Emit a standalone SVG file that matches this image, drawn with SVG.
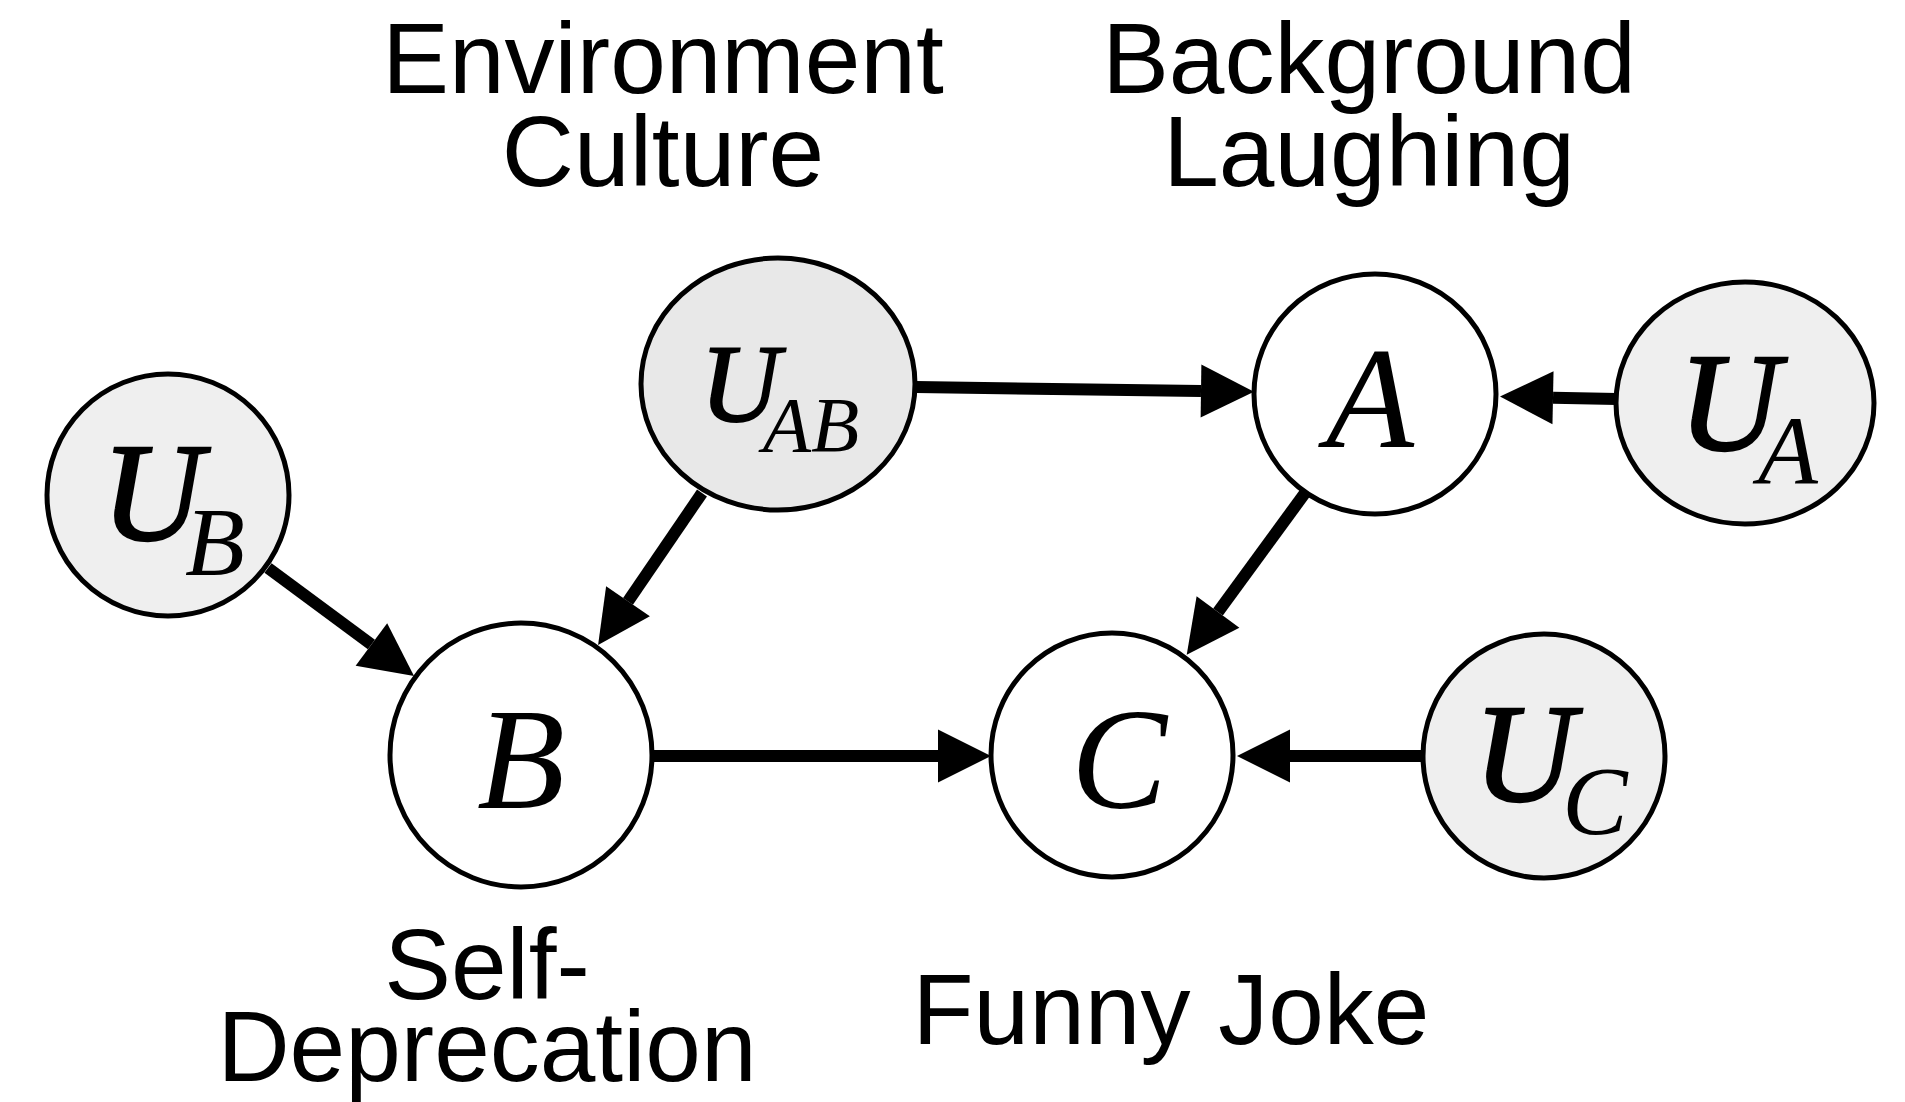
<svg xmlns="http://www.w3.org/2000/svg" width="1905" height="1102" viewBox="0 0 1905 1102">
  <style>
    .node { stroke: #000; stroke-width: 5; }
    .obs { fill: #ffffff; }
    .lat { fill: #efefef; }
    .latd { fill: #e8e8e8; }
    .cap { font-family: "Liberation Sans", Arial, sans-serif; font-size: 100px; fill: #000; text-anchor: middle; }
    .var { font-family: "Liberation Serif", "Times New Roman", serif; font-style: italic; fill: #000; text-anchor: middle; }
    .big { font-size: 144px; }
    .u { font-size: 140px; stroke: #000; stroke-width: 2.5; }
    .sub { font-size: 98px; }
    .edge { stroke: #000; stroke-width: 12; fill: none; marker-end: url(#arrow); }
  </style>
  <defs>
    <marker id="arrow" markerUnits="userSpaceOnUse" markerWidth="54" markerHeight="54" refX="0" refY="26.5" orient="auto" overflow="visible">
      <path d="M0,0 L53,26.5 L0,53 Z" fill="#000"/>
    </marker>
  </defs>
  <rect width="1905" height="1102" fill="#ffffff"/>

  <g id="node-UB">
    <ellipse class="node lat" cx="168" cy="495" rx="121" ry="121"/>
    <text class="var u" x="152" y="540">U</text>
    <text class="var sub" x="215" y="575">B</text>
  </g>

  <g id="node-UAB">
    <text class="cap" x="663" y="93">Environment</text>
    <text class="cap" x="663" y="186">Culture</text>
    <ellipse class="node latd" cx="778" cy="384" rx="137" ry="126"/>
    <text class="var" style="font-size:110px;stroke:#000;stroke-width:2" x="740" y="421">U</text>
    <text class="var" style="font-size:79px" x="811" y="451">AB</text>
  </g>

  <g id="node-A">
    <text class="cap" x="1369" y="93">Background</text>
    <text class="cap" x="1369" y="186">Laughing</text>
    <ellipse class="node obs" cx="1375" cy="394" rx="121" ry="120"/>
    <text class="var big" x="1370" y="447">A</text>
  </g>

  <g id="node-UA">
    <ellipse class="node lat" cx="1745" cy="403" rx="129" ry="121"/>
    <text class="var u" x="1729" y="450">U</text>
    <text class="var sub" x="1788" y="483">A</text>
  </g>

  <g id="node-B">
    <ellipse class="node obs" cx="521" cy="755" rx="131" ry="132"/>
    <text class="var big" x="521" y="808">B</text>
    <text class="cap" x="487" y="999">Self-</text>
    <text class="cap" x="487" y="1081">Deprecation</text>
  </g>

  <g id="node-C">
    <ellipse class="node obs" cx="1112" cy="755" rx="121" ry="122"/>
    <text class="var big" x="1119" y="808">C</text>
    <text class="cap" x="1171" y="1044">Funny Joke</text>
  </g>

  <g id="node-UC">
    <ellipse class="node lat" cx="1544" cy="756" rx="121" ry="122"/>
    <text class="var u" x="1524" y="801">U</text>
    <text class="var sub" x="1595" y="834">C</text>
  </g>

  <g id="connectors">
    <line class="edge" x1="268" y1="568" x2="371.4" y2="644.5"/>
    <line class="edge" x1="702" y1="493" x2="628" y2="601.3"/>
    <line class="edge" x1="916" y1="387" x2="1201" y2="391"/>
    <line class="edge" x1="1617" y1="399" x2="1553" y2="397.7"/>
    <line class="edge" x1="1305" y1="493" x2="1218" y2="612"/>
    <line class="edge" x1="653" y1="756" x2="938" y2="756"/>
    <line class="edge" x1="1423" y1="756" x2="1290" y2="756"/>
  </g>
</svg>
